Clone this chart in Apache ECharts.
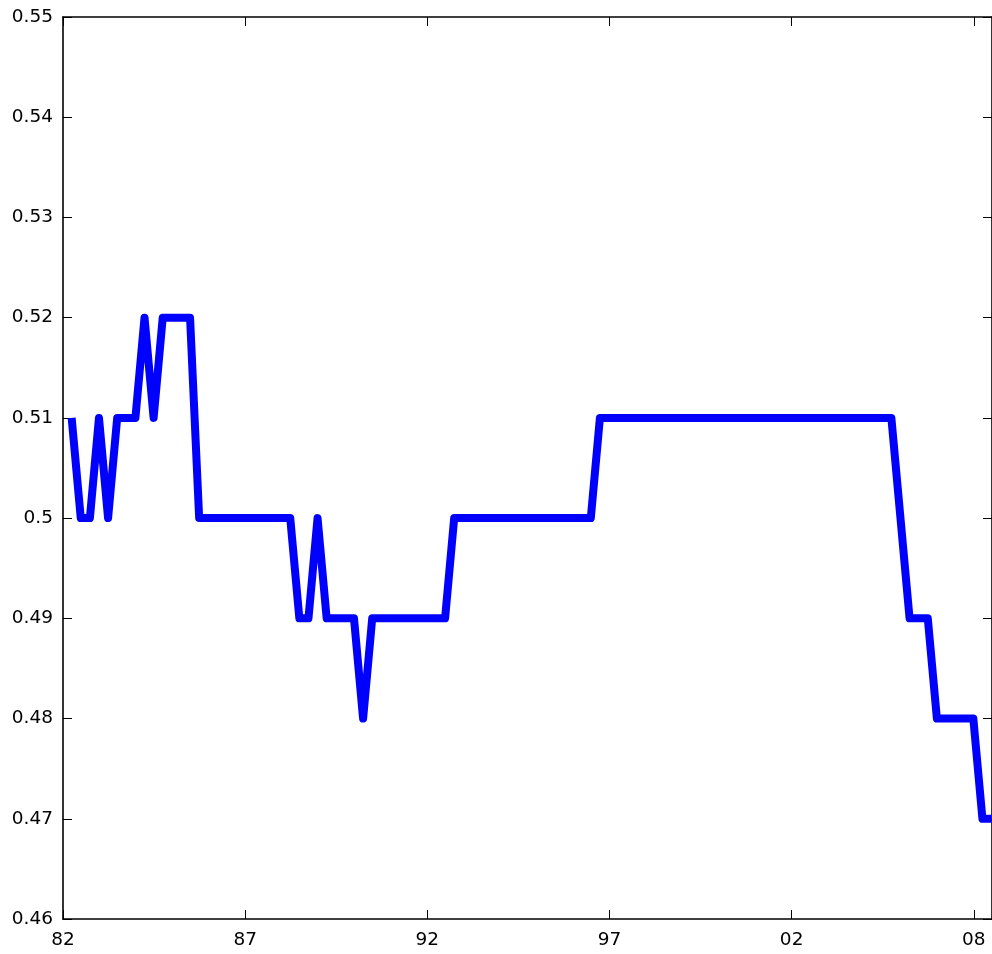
<!DOCTYPE html>
<html>
<head>
<meta charset="utf-8">
<script src="https://cdn.jsdelivr.net/npm/echarts@6/dist/echarts.min.js"></script>
<style>
html,body{margin:0;padding:0;background:#fff;}
#chart{width:992px;height:954px;}
</style>
</head>
<body>
<div id="chart"></div>
<script>
// Quarterly observations, first one ~0.95 quarter after the "82" tick
const firstObs = 0.95;
const values = [
  0.51, 0.50, 0.50, 0.51, 0.50, 0.51, 0.51, 0.51, 0.52, 0.51,
  0.52, 0.52, 0.52, 0.52,
  0.50, 0.50, 0.50, 0.50, 0.50, 0.50, 0.50, 0.50, 0.50, 0.50, 0.50,
  0.49, 0.49, 0.50,
  0.49, 0.49, 0.49, 0.49,
  0.48,
  0.49, 0.49, 0.49, 0.49, 0.49, 0.49, 0.49, 0.49, 0.49,
  0.50, 0.50, 0.50, 0.50, 0.50, 0.50, 0.50, 0.50, 0.50, 0.50, 0.50, 0.50, 0.50, 0.50, 0.50, 0.50,
  0.51, 0.51, 0.51, 0.51, 0.51, 0.51, 0.51, 0.51, 0.51, 0.51, 0.51,
  0.51, 0.51, 0.51, 0.51, 0.51, 0.51, 0.51, 0.51, 0.51, 0.51, 0.51,
  0.51, 0.51, 0.51, 0.51, 0.51, 0.51, 0.51, 0.51, 0.51, 0.51, 0.51,
  0.50,
  0.49, 0.49, 0.49,
  0.48, 0.48, 0.48, 0.48, 0.48,
  0.47, 0.47
];
const xTickLabels = ['82', '87', '92', '97', '02', '08'];
const xTickStep = 20;   // quarters between year ticks
const xMax = 102;       // quarters shown
const yMin = 0.46, yMax = 0.55, yStep = 0.01;

const data = values.map((v, i) => [firstObs + i, v]);

const fontFamily = 'DejaVu Sans';
const labelStyle = {color: '#000', fontSize: 18.5, fontFamily: fontFamily};

const baseX = {
  type: 'value', min: 0, max: xMax, interval: xTickStep,
  axisLine: {show: true, onZero: false, lineStyle: {color: '#000', width: 1.6}},
  axisTick: {show: true, inside: true, length: 9, lineStyle: {color: '#000', width: 1}},
  splitLine: {show: false}
};
const baseY = {
  type: 'value', min: yMin, max: yMax, interval: yStep,
  axisLine: {show: true, onZero: false, lineStyle: {color: '#000', width: 1.6}},
  axisTick: {show: true, inside: true, length: 9, lineStyle: {color: '#000', width: 1}},
  splitLine: {show: false}
};

const chart = echarts.init(document.getElementById('chart'), null, {renderer: 'canvas'});
chart.setOption({
  animation: false,
  backgroundColor: '#fff',
  grid: {left: 63, right: -1, top: 17, bottom: 35, containLabel: false},
  xAxis: [
    Object.assign({}, baseX, {
      position: 'bottom',
      axisLabel: Object.assign({}, labelStyle, {
        margin: 12,
        formatter: function (v) {
          const idx = Math.round(v / xTickStep);
          return xTickLabels[idx] !== undefined ? xTickLabels[idx] : '';
        }
      })
    }),
    Object.assign({}, baseX, {position: 'top', axisLabel: {show: false}})
  ],
  yAxis: [
    Object.assign({}, baseY, {
      position: 'left',
      axisLabel: Object.assign({}, labelStyle, {
        margin: 10,
        formatter: function (v) { return String(Math.round(v * 100) / 100); }
      })
    }),
    Object.assign({}, baseY, {position: 'right', axisLabel: {show: false}})
  ],
  series: [{
    type: 'line',
    data: data,
    xAxisIndex: 0,
    yAxisIndex: 0,
    showSymbol: false,
    symbol: 'none',
    clip: true,
    lineStyle: {color: '#0000ff', width: 8, join: 'round', cap: 'butt'}
  }]
});
</script>
</body>
</html>
